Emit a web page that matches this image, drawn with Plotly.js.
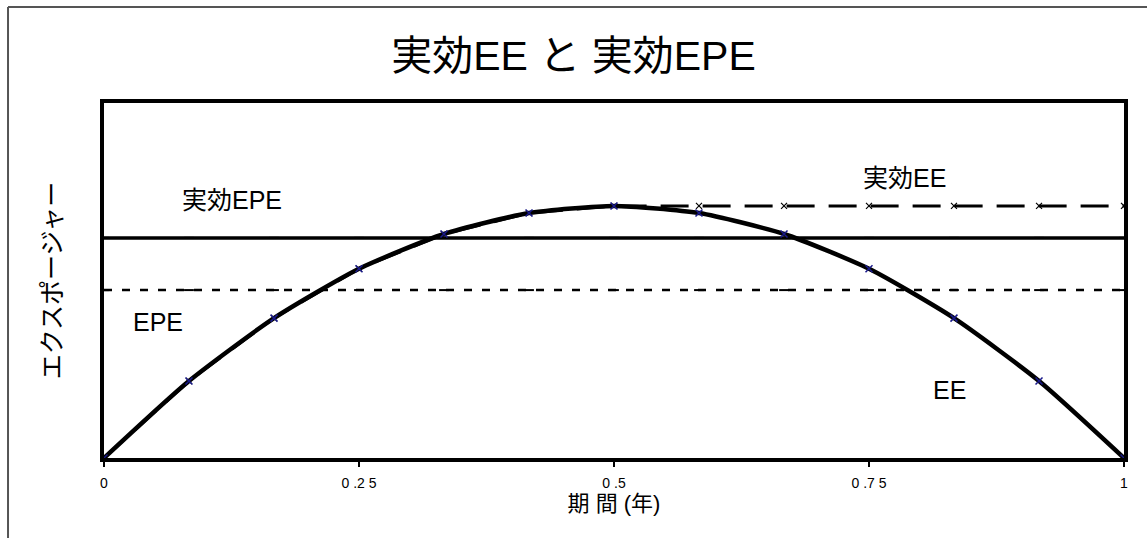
<!DOCTYPE html>
<html>
<head>
<meta charset="utf-8">
<script src="https://cdn.plot.ly/plotly-3.0.1.min.js"></script>
<style>
html,body{margin:0;padding:0;background:#fff;}
#chart{width:1147px;height:538px;}
</style>
</head>
<body>
<div id="chart"></div>
<script>
// Time grid (years)
const periods = [0, 0.0833, 0.1667, 0.25, 0.3333, 0.4167, 0.5, 0.5833, 0.6667, 0.75, 0.8333, 0.9167, 1];
// Exposure values (arbitrary units)
const ee =          [0, 0.217, 0.394, 0.533, 0.631, 0.690, 0.710, 0.690, 0.631, 0.533, 0.394, 0.217, 0];
const effectiveEE = [0, 0.217, 0.394, 0.533, 0.631, 0.690, 0.710, 0.710, 0.710, 0.710, 0.710, 0.710, 0.710];
const epe =          [0.473, 0.473, 0.473, 0.473, 0.473, 0.473, 0.473, 0.473, 0.473, 0.473, 0.473, 0.473, 0.473];
const effectiveEPE = [0.620, 0.620, 0.620, 0.620, 0.620, 0.620, 0.620, 0.620, 0.620, 0.620, 0.620, 0.620, 0.620];
const tickVals = [0, 0.25, 0.5, 0.75, 1];
const tickText = ['0', '0 .2 5', '0 .5', '0 .7 5', '1'];

const FONT = '"Liberation Sans", Arial, "Noto Sans CJK JP", sans-serif';

const traces = [
  {x: periods, y: epe, mode: 'lines+markers', name: 'EPE',
   line: {color: '#000', width: 2.5, dash: '8px,10px'},
   marker: {symbol: 'line-ew', size: 7, color: '#000', line: {width: 2, color: '#000'}}},
  {x: periods, y: effectiveEPE, mode: 'lines+markers', name: '実効EPE',
   line: {color: '#000', width: 3.5},
   marker: {symbol: 'line-ew', size: 7, color: '#000', line: {width: 2, color: '#000'}}},
  {x: periods, y: effectiveEE, mode: 'lines+markers', name: '実効EE',
   line: {color: '#000', width: 3, dash: '28px,14px'},
   marker: {symbol: 'x-thin', size: 6, color: '#000', line: {width: 1.2, color: '#000'}}},
  {x: periods, y: ee, mode: 'lines+markers', name: 'EE', line: {color: '#000', width: 4.5, shape: 'spline', smoothing: 0.6},
   marker: {symbol: 'x-thin', size: 7, color: '#1a1a8a', line: {width: 1.5, color: '#1a1a8a'}}}
];

const layout = {
  width: 1147, height: 538,
  margin: {l: 104, r: 23, t: 103, b: 80},
  paper_bgcolor: '#fff', plot_bgcolor: '#fff',
  showlegend: false,
  font: {family: FONT, color: '#000'},
  title: {text: '実効EE と 実効EPE', font: {size: 41, family: FONT, color: '#000'},
          x: 0.5, xanchor: 'center', y: 0.897, yanchor: 'middle'},
  xaxis: {
    range: [0, 1], tickmode: 'array', tickvals: tickVals, ticktext: tickText,
    ticks: 'outside', ticklen: 5, tickwidth: 2, tickcolor: '#000',
    ticklabelstandoff: 4,
    tickfont: {size: 14, family: FONT, color: '#000'},
    showgrid: false, zeroline: false,
    showline: true, linewidth: 4, linecolor: '#000', mirror: true,
    title: {text: '期 間 (年)', font: {size: 22, family: FONT, color: '#000'}, standoff: 2}
  },
  yaxis: {
    range: [0, 1], showticklabels: false, ticks: '',
    showgrid: false, zeroline: false,
    showline: true, linewidth: 4, linecolor: '#000', mirror: true,
    title: {text: 'エクスポージャー', font: {size: 25, family: FONT, color: '#000'}, standoff: 32}
  },
  annotations: [
    {x: 0.125, y: 0.727, xref: 'x', yref: 'y', text: '実効EPE', showarrow: false, font: {size: 25, family: FONT, color: '#000'}},
    {x: 0.785, y: 0.789, xref: 'x', yref: 'y', text: '実効EE', showarrow: false, font: {size: 25, family: FONT, color: '#000'}},
    {x: 0.053, y: 0.383, xref: 'x', yref: 'y', text: 'EPE', showarrow: false, font: {size: 25, family: FONT, color: '#000'}},
    {x: 0.829, y: 0.192, xref: 'x', yref: 'y', text: 'EE', showarrow: false, font: {size: 25, family: FONT, color: '#000'}}
  ],
  shapes: [
    {type: 'line', xref: 'paper', yref: 'paper', x0: -0.0941, x1: 1.03, y0: 1.2704, y1: 1.2704, line: {color: '#555', width: 2}},
    {type: 'line', xref: 'paper', yref: 'paper', x0: -0.0941, x1: -0.0941, y0: 1.2704, y1: -0.23, line: {color: '#555', width: 2}}
  ]
};

Plotly.newPlot('chart', traces, layout, {displayModeBar: false, staticPlot: true});
</script>
</body>
</html>
